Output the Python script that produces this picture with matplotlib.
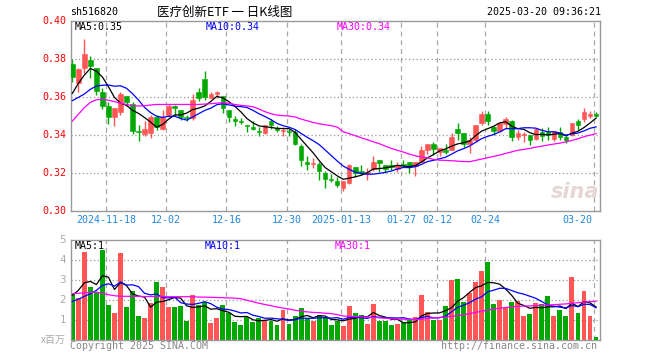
import numpy as np
import pandas as pd
import matplotlib
matplotlib.use("Agg")
import matplotlib.pyplot as plt

# ---------------- data ----------------
opens = [0.3775, 0.3673, 0.3752, 0.3796, 0.3752, 0.3629, 0.3554, 0.3496, 0.3522, 0.3606,
         0.3562, 0.3423, 0.3408, 0.3411, 0.3496, 0.3432, 0.3506, 0.3555, 0.3531, 0.3497,
         0.3492, 0.3626, 0.3696, 0.3598, 0.3619, 0.3606, 0.3533, 0.3483, 0.3474, 0.3453,
         0.3444, 0.3422, 0.3409, 0.3474, 0.3439, 0.3423, 0.3420, 0.3416, 0.3342, 0.3260,
         0.3247, 0.3247, 0.3202, 0.3168, 0.3159, 0.3122, 0.3149, 0.3230, 0.3210, 0.3199,
         0.3219, 0.3268, 0.3242, 0.3242, 0.3224, 0.3246, 0.3260, 0.3237, 0.3260, 0.3321,
         0.3355, 0.3312, 0.3321, 0.3321, 0.3430, 0.3409, 0.3356, 0.3374, 0.3466, 0.3510,
         0.3441, 0.3423, 0.3457, 0.3474, 0.3392, 0.3399, 0.3400, 0.3379, 0.3418, 0.3418,
         0.3379, 0.3418, 0.3392, 0.3400, 0.3474, 0.3485, 0.3503, 0.3511]
highs = [0.3800, 0.3752, 0.3907, 0.3818, 0.3756, 0.3647, 0.3576, 0.3545, 0.3626, 0.3608,
         0.3576, 0.3453, 0.3474, 0.3506, 0.3506, 0.3533, 0.3564, 0.3559, 0.3531, 0.3506,
         0.3615, 0.3647, 0.3738, 0.3626, 0.3635, 0.3606, 0.3533, 0.3501, 0.3488, 0.3453,
         0.3474, 0.3444, 0.3453, 0.3483, 0.3450, 0.3443, 0.3430, 0.3430, 0.3353, 0.3290,
         0.3277, 0.3260, 0.3210, 0.3193, 0.3180, 0.3159, 0.3247, 0.3230, 0.3242, 0.3225,
         0.3291, 0.3268, 0.3242, 0.3268, 0.3260, 0.3268, 0.3260, 0.3260, 0.3342, 0.3353,
         0.3365, 0.3330, 0.3351, 0.3409, 0.3462, 0.3409, 0.3392, 0.3453, 0.3529, 0.3529,
         0.3450, 0.3467, 0.3497, 0.3479, 0.3427, 0.3418, 0.3400, 0.3436, 0.3439, 0.3441,
         0.3422, 0.3441, 0.3400, 0.3462, 0.3485, 0.3545, 0.3527, 0.3521]
lows = [0.3682, 0.3629, 0.3730, 0.3703, 0.3612, 0.3538, 0.3459, 0.3450, 0.3506, 0.3554,
        0.3408, 0.3369, 0.3395, 0.3385, 0.3427, 0.3427, 0.3497, 0.3501, 0.3480, 0.3474,
        0.3480, 0.3582, 0.3585, 0.3594, 0.3594, 0.3518, 0.3471, 0.3450, 0.3457, 0.3418,
        0.3427, 0.3397, 0.3406, 0.3430, 0.3418, 0.3397, 0.3397, 0.3348, 0.3237, 0.3216,
        0.3225, 0.3163, 0.3122, 0.3151, 0.3128, 0.3107, 0.3142, 0.3177, 0.3189, 0.3166,
        0.3212, 0.3207, 0.3203, 0.3216, 0.3207, 0.3233, 0.3198, 0.3186, 0.3260, 0.3298,
        0.3295, 0.3291, 0.3298, 0.3321, 0.3374, 0.3339, 0.3307, 0.3362, 0.3453, 0.3453,
        0.3400, 0.3418, 0.3436, 0.3369, 0.3374, 0.3362, 0.3348, 0.3374, 0.3369, 0.3374,
        0.3369, 0.3374, 0.3360, 0.3397, 0.3427, 0.3471, 0.3492, 0.3494]
closes = [0.3708, 0.3749, 0.3828, 0.3767, 0.3635, 0.3554, 0.3496, 0.3543, 0.3617, 0.3576,
          0.3422, 0.3416, 0.3434, 0.3496, 0.3443, 0.3494, 0.3555, 0.3545, 0.3497, 0.3492,
          0.3585, 0.3594, 0.3603, 0.3615, 0.3626, 0.3545, 0.3497, 0.3476, 0.3471, 0.3450,
          0.3432, 0.3416, 0.3453, 0.3453, 0.3425, 0.3427, 0.3415, 0.3355, 0.3268, 0.3246,
          0.3251, 0.3212, 0.3168, 0.3161, 0.3136, 0.3159, 0.3242, 0.3203, 0.3202, 0.3204,
          0.3258, 0.3251, 0.3224, 0.3230, 0.3242, 0.3240, 0.3233, 0.3256, 0.3320, 0.3353,
          0.3325, 0.3330, 0.3309, 0.3392, 0.3413, 0.3356, 0.3374, 0.3453, 0.3511, 0.3476,
          0.3422, 0.3462, 0.3483, 0.3392, 0.3413, 0.3404, 0.3374, 0.3432, 0.3397, 0.3400,
          0.3422, 0.3392, 0.3374, 0.3462, 0.3453, 0.3520, 0.3511, 0.3503]
# closes before the first visible day (estimated from the MA lines)
prior_closes = [0.3579, 0.3648, 0.3517, 0.3465, 0.3511, 0.3484, 0.3608, 0.3592, 0.3708]
# MA30 of price
ma30_price = [0.3474, 0.3510, 0.3545, 0.3573, 0.3587, 0.3589, 0.3584, 0.3577, 0.3569, 0.3562,
              0.3555, 0.3554, 0.3555, 0.3559, 0.3562, 0.3562, 0.3562, 0.3562, 0.3562, 0.3562,
              0.3562, 0.3562, 0.3564, 0.3566, 0.3569, 0.3571, 0.3568, 0.3562, 0.3557, 0.3554,
              0.3550, 0.3538, 0.3524, 0.3513, 0.3506, 0.3503, 0.3501, 0.3496, 0.3485, 0.3476,
              0.3467, 0.3460, 0.3455, 0.3450, 0.3443, 0.3418, 0.3408, 0.3397, 0.3386, 0.3376,
              0.3365, 0.3355, 0.3342, 0.3330, 0.3320, 0.3311, 0.3300, 0.3291, 0.3284, 0.3281,
              0.3272, 0.3268, 0.3267, 0.3265, 0.3263, 0.3261, 0.3260, 0.3267, 0.3274, 0.3281,
              0.3288, 0.3295, 0.3304, 0.3312, 0.3320, 0.3325, 0.3330, 0.3337, 0.3342, 0.3348,
              0.3353, 0.3358, 0.3365, 0.3372, 0.3381, 0.3392, 0.3400, 0.3408]

volumes = [2.30, 2.08, 4.42, 2.62, 2.38, 4.52, 1.72, 1.32, 4.37, 1.62,
           2.42, 1.18, 1.07, 1.82, 2.87, 2.62, 1.62, 1.62, 1.67, 0.93,
           2.22, 1.75, 1.88, 0.83, 1.07, 1.72, 1.35, 0.87, 0.72, 1.15,
           0.87, 1.08, 1.00, 0.92, 0.72, 1.47, 0.78, 1.18, 1.57, 1.03,
           0.92, 1.25, 1.13, 0.72, 0.93, 0.67, 1.67, 1.32, 1.25, 0.77,
           1.77, 0.92, 0.92, 0.72, 0.77, 0.85, 0.98, 1.12, 2.22, 1.37,
           0.97, 1.00, 1.67, 2.97, 3.02, 1.87, 2.32, 2.87, 3.42, 3.87,
           1.77, 1.97, 1.60, 1.87, 1.93, 1.18, 1.27, 1.82, 1.77, 2.17,
           1.18, 1.47, 1.18, 3.12, 1.32, 2.42, 1.18, 0.12]
prior_volumes = [1.08, 2.92, 1.32, 0.68, 2.10, 0.83, 2.52, 2.27, 3.18]
ma30_volume = [2.30, 2.32, 2.35, 2.37, 2.38, 2.32, 2.25, 2.20, 2.17, 2.17,
               2.17, 2.17, 2.16, 2.16, 2.16, 2.16, 2.15, 2.15, 2.15, 2.15,
               2.15, 2.13, 2.13, 2.12, 2.11, 2.10, 2.09, 2.08, 2.05, 1.97,
               1.90, 1.82, 1.76, 1.70, 1.63, 1.58, 1.53, 1.47, 1.42, 1.39,
               1.36, 1.35, 1.32, 1.30, 1.25, 1.18, 1.16, 1.15, 1.14, 1.13,
               1.11, 1.09, 1.07, 1.05, 1.03, 1.02, 1.01, 1.00, 1.02, 1.06,
               1.09, 1.11, 1.13, 1.16, 1.20, 1.25, 1.30, 1.36, 1.42, 1.48,
               1.53, 1.57, 1.61, 1.64, 1.66, 1.68, 1.69, 1.70, 1.72, 1.73,
               1.75, 1.77, 1.79, 1.82, 1.85, 1.88, 1.90, 1.92]

date_idx = [6, 16, 26, 36, 45, 55, 61, 69, 87]
date_labels = ["2024-11-18", "12-02", "12-16", "12-30", "2025-01-13",
               "01-27", "02-12", "02-24", "03-20"]
price_ticks = [0.30, 0.32, 0.34, 0.36, 0.38, 0.40]
vol_ticks = [1, 2, 3, 4, 5]

# ---------------- derived ----------------
n = len(closes)
x = np.arange(n)
o = np.array(opens); h = np.array(highs); l = np.array(lows); c = np.array(closes)
full_c = pd.Series(prior_closes + closes)
ma5 = full_c.rolling(5).mean().values[-n:]
ma10 = full_c.rolling(10).mean().values[-n:]
v = np.array(volumes)
full_v = pd.Series(prior_volumes + volumes)
vma5 = full_v.rolling(5).mean().values[-n:]
vma10 = full_v.rolling(10).mean().values[-n:]

RED = "#ff5555"
GREEN = "#00a800"
up = c >= o
cols = np.where(up, RED, GREEN)

W, H = 660, 360
fig = plt.figure(figsize=(W / 100, H / 100), dpi=100)
fig.patch.set_facecolor("white")

def rect(l_, t_, r_, b_):
    return [l_ / W, 1 - b_ / H, (r_ - l_) / W, (b_ - t_) / H]

def fx(px):
    return px / W

def fy(py):
    return 1 - py / H

MONO = "DejaVu Sans Mono"
FS = 7.2
x0 = -0.22
x1 = 87.66

axp = fig.add_axes(rect(71, 21.4, 600, 211))
axv = fig.add_axes(rect(71, 240, 600, 339.5))

for ax in (axp, axv):
    ax.set_xlim(x0, x1)
    ax.set_xticks([])
    ax.set_yticks([])
    for s in ax.spines.values():
        s.set_color("#999999")
        s.set_linewidth(1.0)
    for di in date_idx:
        ax.axvline(di - 0.4, color="#aaaaaa", lw=0.9, ls=(0, (4, 3)), zorder=0)

axp.set_ylim(0.30, 0.40)
for t in price_ticks[1:-1]:
    axp.axhline(t, color="#999999", lw=0.9, ls=(0, (1, 2)), zorder=0)
axv.set_ylim(0, 5)
for t in vol_ticks[:-1]:
    axv.axhline(t, color="#999999", lw=0.9, ls=(0, (1, 2)), zorder=0)

# candles
axp.vlines(x, l, h, colors=cols, lw=1.0, zorder=2)
body_bot = np.minimum(o, c)
body_h = np.maximum(np.abs(c - o), 0.0003)
axp.bar(x, body_h, bottom=body_bot, width=0.75, color=cols, edgecolor=cols,
        linewidth=0.4, zorder=3)
axp.plot(x, ma5, color="black", lw=0.9, zorder=4)
axp.plot(x, ma10, color="#0000ff", lw=0.9, zorder=4)
axp.plot(x, ma30_price, color="#ff00ff", lw=0.9, zorder=4)

# volume
axv.bar(x, v, width=0.82, color=cols, linewidth=0, zorder=2)
axv.plot(x, vma5, color="black", lw=0.9, zorder=4)
axv.plot(x, vma10, color="#0000ff", lw=0.9, zorder=4)
axv.plot(x, ma30_volume, color="#ff00ff", lw=0.9, zorder=4)

# watermark
axp.text(83.5, 0.305, "sina", fontsize=15, fontweight="bold", style="italic",
         color="#e6d6d6", ha="center", va="bottom", zorder=1)

# y tick labels
for t in price_ticks:
    ypix = 211 - (t - 0.30) / 0.10 * (211 - 21.4)
    fig.text(fx(66), fy(ypix), f"{t:.2f}", color="#ff0000", family=MONO,
             fontsize=FS, ha="right", va="center")
for t in vol_ticks:
    ypix = 339.5 - t / 5 * (339.5 - 240)
    fig.text(fx(66), fy(ypix), str(t), color="#aaaaaa", fontsize=7.5,
             ha="right", va="center")
fig.text(fx(66), fy(340), "x百万", color="#aaaaaa", fontsize=7.2,
         family=["Noto Sans CJK SC", "DejaVu Sans"], ha="right", va="center")

# date labels
for di, lab in zip(date_idx, date_labels):
    xpix = 72.3 + 6.02 * (di - 0.4)
    ha = "right" if di == date_idx[-1] else "center"
    if ha == "right":
        xpix -= 1
    fig.text(fx(xpix), fy(220), lab, color="#2288dd", family=MONO,
             fontsize=FS, ha=ha, va="center")

# header
fig.text(fx(70), fy(12), "sh516820", family=MONO, fontsize=FS, ha="left", va="center")
fig.text(fx(225), fy(12), "医疗创新ETF 一 日K线图",
         family=["Noto Sans CJK SC", "DejaVu Sans"], fontsize=9, ha="center", va="center")
fig.text(fx(601), fy(12), "2025-03-20 09:36:21", family=MONO, fontsize=FS,
         ha="right", va="center")

fig.text(fx(75), fy(27.5), f"MA5:{ma5[-1]:.2f}", family=MONO, fontsize=FS,
         color="black", ha="left", va="center")
fig.text(fx(206), fy(27.5), f"MA10:{ma10[-1]:.2f}", family=MONO, fontsize=FS,
         color="#0000ff", ha="left", va="center")
fig.text(fx(337), fy(27.5), f"MA30:{ma30_price[-1]:.2f}", family=MONO, fontsize=FS,
         color="#ff00ff", ha="left", va="center")

fig.text(fx(75), fy(246), "MA5:1", family=MONO, fontsize=FS, color="black",
         ha="left", va="center")
fig.text(fx(205), fy(246), "MA10:1", family=MONO, fontsize=FS, color="#0000ff",
         ha="left", va="center")
fig.text(fx(335), fy(246), "MA30:1", family=MONO, fontsize=FS, color="#ff00ff",
         ha="left", va="center")

# footer
fig.text(fx(70), fy(346), "Copyright 2025 SINA.COM", family=MONO, fontsize=FS,
         color="#888888", ha="left", va="center")
fig.text(fx(597), fy(346), "http://finance.sina.com.cn", family=MONO, fontsize=FS,
         color="#888888", ha="right", va="center")

fig.savefig("out.png", dpi=100, facecolor="white")
